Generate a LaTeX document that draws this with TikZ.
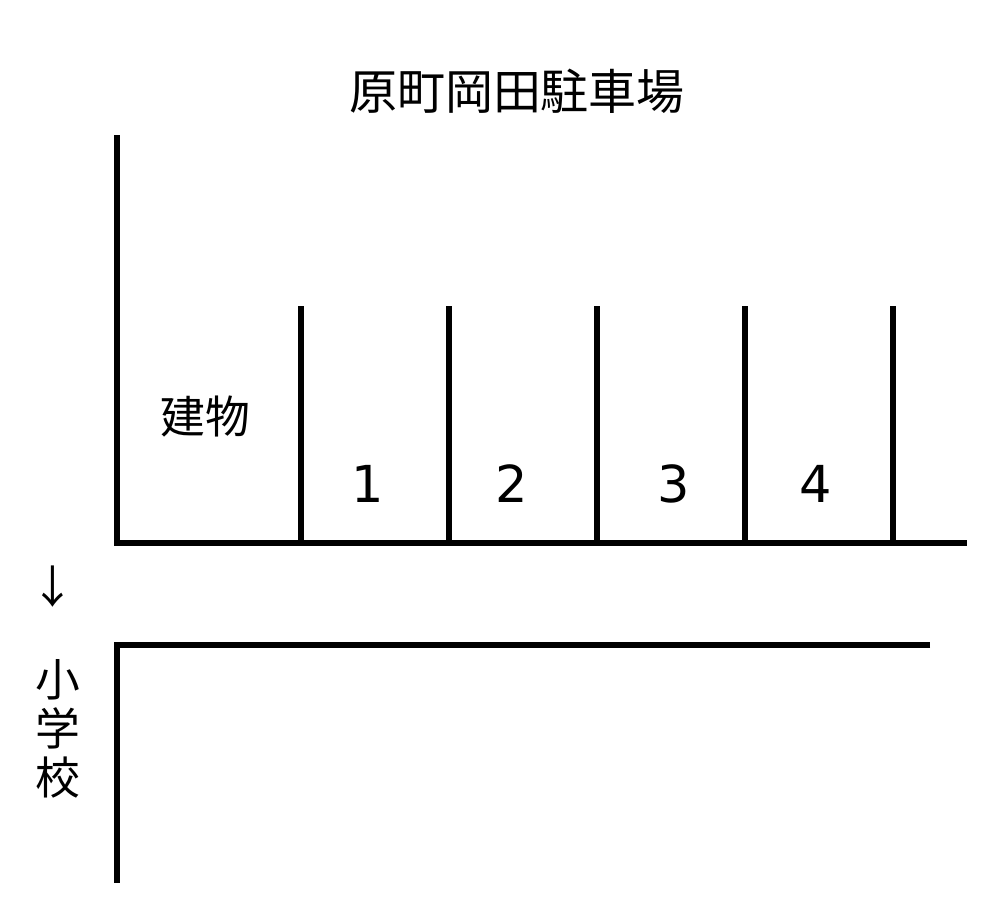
\documentclass[tikz,border=0pt]{standalone}
\usepackage{fontspec}
\newfontfamily\jpfont{Noto Sans CJK JP}
\newfontfamily\numfont{DejaVu Sans}

\begin{document}
\begin{tikzpicture}[x=0.02cm,y=-0.02cm,line width=3.4pt,
    jp/.style={font=\jpfont\fontsize{25.5}{27.9}\selectfont,inner sep=0pt},
    num/.style={font=\numfont\fontsize{29}{32}\selectfont,inner sep=0pt}]
    \useasboundingbox (0,0) rectangle (1003,909);

    \node[jp,font=\jpfont\fontsize{27.3}{30}\selectfont] (TTL) at (517,91) {原町岡田駐車場};

    \draw (117,135) -- (117,543) -- (967,543);
    \foreach \x in {301,449,597,745,893}
      \draw (\x,306) -- (\x,543);

    \node[jp] (BLD) at (205,417) {建物};
    \foreach \x/\n in {368/1,512/2,674/3,816/4}
      \node[num] (P\n) at (\x,484) {\n};

    \node[jp] (ARR) at (53,587) {↓};

    \draw (930,645) -- (117,645) -- (117,883);
    \node[jp,align=center] (SCH) at (58,729) {小\\学\\校};
  \end{tikzpicture}
\end{document}
